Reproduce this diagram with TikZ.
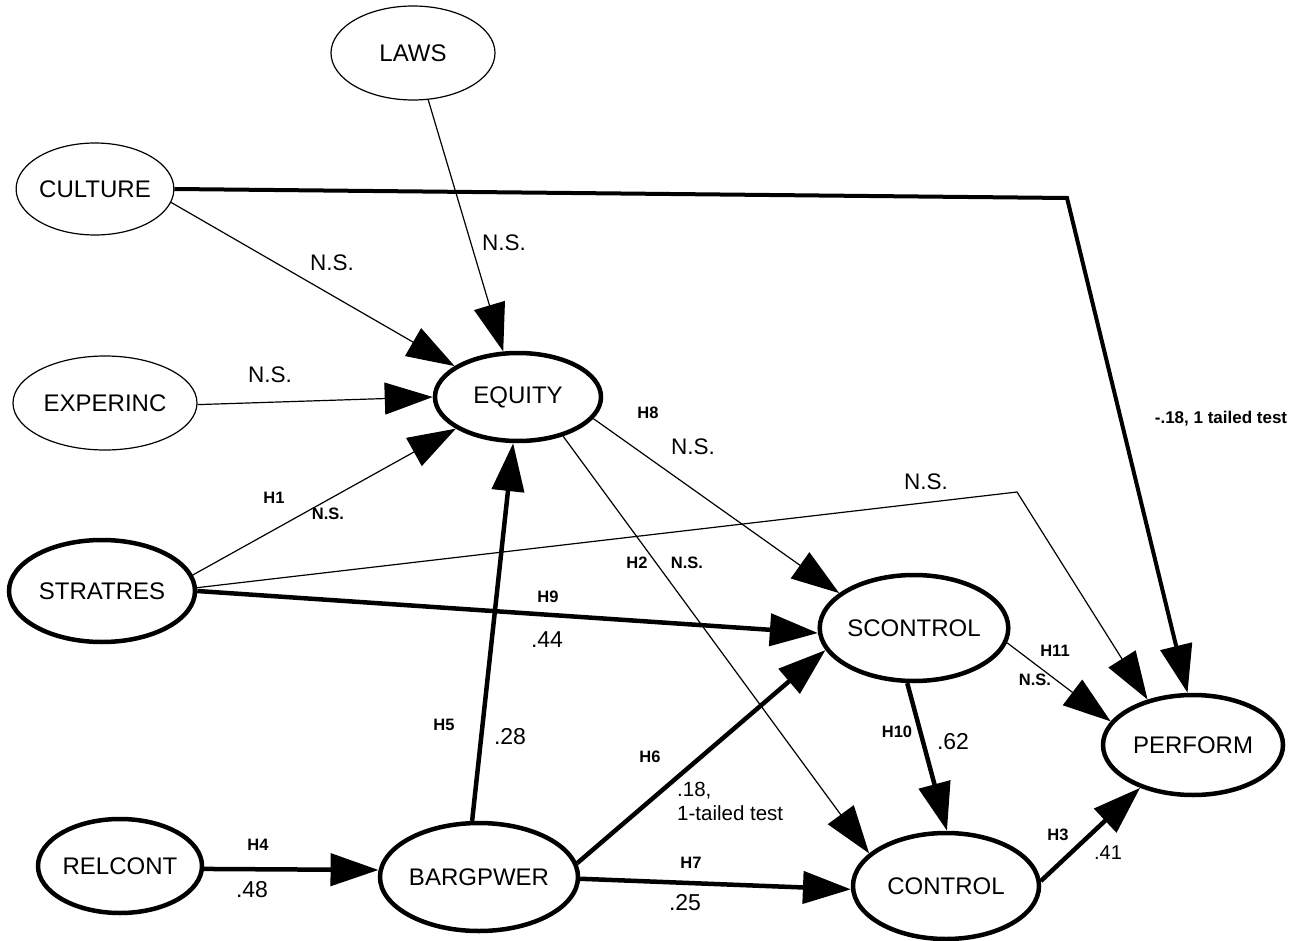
\documentclass[tikz,border=0pt]{standalone}
\usepackage{fontspec}
\setmainfont{Liberation Sans}
\usetikzlibrary{shapes.geometric,arrows.meta}
\begin{document}
\begin{tikzpicture}[x=1pt,y=-1pt,
 var/.style={ellipse,draw,inner sep=0pt,font=\fontsize{24}{28}\selectfont},
 thinvar/.style={var,line width=1.2pt},
 thickvar/.style={var,line width=4.5pt},
 thinarr/.style={line width=1.2pt,-{Triangle[length=48pt,width=32pt]}},
 thickarr/.style={line width=4.5pt,-{Triangle[length=48pt,width=32pt]}},
 lbl/.style={font=\fontsize{22.5}{26}\selectfont,inner sep=0pt},
 hl/.style={font=\bfseries\fontsize{16.5}{19}\selectfont,inner sep=0pt},
 val/.style={font=\fontsize{23}{27}\selectfont,inner sep=0pt}]
\fill[white] (0,0) rectangle (1298,941);
\useasboundingbox (0,0) rectangle (1298,941);

% variables
\node[thinvar,minimum width=164pt,minimum height=94pt] (laws) at (413,53) {LAWS};
\node[thinvar,minimum width=156pt,minimum height=92pt] (cult) at (95,189) {CULTURE};
\node[thinvar,minimum width=184pt,minimum height=94pt] (exp) at (105,403) {EXPERINC};
\node[thickvar,minimum width=166pt,minimum height=88pt] (eq) at (518,397) {EQUITY};
\node[thickvar,minimum width=186pt,minimum height=102pt] (strat) at (102,591) {STRATRES};
\node[thickvar,minimum width=164pt,minimum height=94pt] (rel) at (120,866) {RELCONT};
\node[thickvar,minimum width=192pt,minimum height=108pt] (barg) at (479,877) {BARGPWER};
\node[thickvar,minimum width=182pt,minimum height=106pt] (scon) at (914,628) {SCONTROL};
\node[thickvar,minimum width=186pt,minimum height=106pt] (ctrl) at (946,886) {CONTROL};
\node[thickvar,minimum width=180pt,minimum height=100pt] (perf) at (1193,745) {PERFORM};

\coordinate (cbend) at (1067,198);
\coordinate (sbend) at (1017,492);

% connectors
\draw[thinarr] (laws.-72.3) -- (eq.108.8);
\draw[thinarr] (cult.-10.3) -- (eq.154.2);
\draw[line width=4pt,-{Triangle[length=48pt,width=32pt]}] (cult.0) -- (cbend) -- (perf.96.6);
\draw[thinarr] (exp.-1.2) -- (eq.180);
\draw[thinarr] (strat.10) -- (eq.207.8);
\draw[thinarr] (strat.2.4) -- (sbend) -- (perf.135);
\draw[thickarr] (strat.-0.6) -- (scon.183);
\draw[thickarr] (rel.-2) -- (barg.176);
\draw[thickarr] (barg.97.4) -- (eq.-96.2);
\draw[thickarr] (barg.8.7) -- (scon.194.4);
\draw[thickarr] (barg.-1.8) -- (ctrl.182.5);
\draw[thinarr] (eq.-16.3) -- (scon.155);
\draw[thinarr] (eq.-41.6) -- (ctrl.157.3);
\draw[thickarr] (scon.-97.3) -- (ctrl.89);
\draw[thinarr] (scon.-9.4) -- (perf.164.8);
\draw[thickarr] (ctrl.3.8) -- (perf.219.5);

% labels
\node[lbl] (l1) at (332,263) {N.S.};
\node[lbl] (l2) at (504,243) {N.S.};
\node[lbl] (l3) at (270,375) {N.S.};
\node[hl] (l4) at (274,498) {H1};
\node[hl] (l5) at (328,514) {N.S.};
\node[hl] (l6) at (648,413) {H8};
\node[lbl] (l7) at (693,447) {N.S.};
\node[hl] (l8) at (637,563) {H2};
\node[hl] (l9) at (687,563) {N.S.};
\node[lbl] (l10) at (926,482) {N.S.};
\node[hl] (l11) at (548,597) {H9};
\node[val] (l12) at (547,640) {.44};
\node[hl] (l13) at (444,725) {H5};
\node[val] (l14) at (510,737) {.28};
\node[hl] (l15) at (650,757) {H6};
\node[lbl,anchor=north west,align=left,font=\fontsize{20.5}{24}\selectfont] (l16) at (677,782) {.18,\\1-tailed test};
\node[hl] (l17) at (691,863) {H7};
\node[val] (l18) at (685,903) {.25};
\node[hl] (l19) at (258,845) {H4};
\node[val] (l20) at (252,890) {.48};
\node[hl] (l21) at (897,732) {H10};
\node[val] (l22) at (953,742) {.62};
\node[hl] (l23) at (1055,651) {H11};
\node[hl] (l24) at (1035,680) {N.S.};
\node[hl] (l25) at (1058,835) {H3};
\node[val,font=\fontsize{20}{24}\selectfont] (l26) at (1108,853) {.41};
\node[hl,font=\bfseries\fontsize{17}{20}\selectfont] (l27) at (1221,419) {-.18, 1 tailed test};
\end{tikzpicture}
\end{document}
